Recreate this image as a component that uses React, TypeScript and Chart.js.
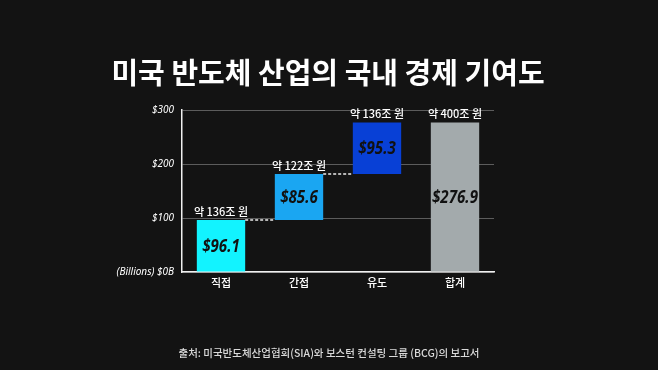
import React, { useEffect, useRef } from "react";
import { Chart, registerables } from "chart.js";

Chart.register(...registerables);

const titleText = "미국 반도체 산업의 국내 경제 기여도";
const sourceText = "출처: 미국반도체산업협회(SIA)와 보스턴 컨설팅 그룹 (BCG)의 보고서";
const categories = ["직접", "간접", "유도", "합계"];
const increments = [96.1, 85.6, 95.3];
const totalValue = 276.9;
const valueLabels = ["$96.1", "$85.6", "$95.3", "$276.9"];
const wonLabels = ["약 136조 원", "약 122조 원", "약 136조 원", "약 400조 원"];
const yTickLabels: Record<number, string> = { 0: "(Billions) $0B", 100: "$100", 200: "$200", 300: "$300" };
const barColors = ["#12f3ff", "#1aa6f2", "#0840d6", "#a3aaac"];

export default function App() {
  const ref = useRef<HTMLCanvasElement>(null);
  useEffect(() => {
    document.body.style.margin = "0";
    document.body.style.background = "#131313";
    const ranges: [number, number][] = [];
    let acc = 0;
    for (const v of increments) {
      ranges.push([acc, +(acc + v).toFixed(1)]);
      acc += v;
    }
    ranges.push([0, totalValue]);

    const overlay = {
      id: "overlay",
      afterDatasetsDraw(chart: any) {
        const ctx = chart.ctx;
        const meta = chart.getDatasetMeta(0);
        const ys = chart.scales.y;
        ctx.save();
        ctx.strokeStyle = "#ececec";
        ctx.lineWidth = 1.5;
        ctx.setLineDash([3, 2]);
        for (let i = 0; i < increments.length - 1; i++) {
          const a = meta.data[i];
          const b = meta.data[i + 1];
          const y = ys.getPixelForValue(ranges[i][1]);
          ctx.beginPath();
          ctx.moveTo(a.x + a.width / 2, y);
          ctx.lineTo(b.x - b.width / 2, y);
          ctx.stroke();
        }
        ctx.setLineDash([]);
        meta.data.forEach((el: any, i: number) => {
          const top = Math.min(el.y, el.base);
          const bot = Math.max(el.y, el.base);
          ctx.fillStyle = "#ffffff";
          ctx.font = "500 11px 'Noto Sans CJK KR'";
          ctx.textAlign = "center";
          ctx.textBaseline = "bottom";
          ctx.fillText(wonLabels[i], el.x, top - 3);
          ctx.save();
          ctx.translate(el.x, (top + bot) / 2 + 1);
          ctx.scale(0.84, 1);
          ctx.fillStyle = "#111111";
          ctx.font = "italic bold 18px 'Noto Sans'";
          ctx.textBaseline = "middle";
          ctx.fillText(valueLabels[i], 0, 0);
          ctx.restore();
        });
        ctx.restore();
      },
      afterDraw(chart: any) {
        const ctx = chart.ctx;
        ctx.save();
        ctx.fillStyle = "#ffffff";
        ctx.textAlign = "center";
        ctx.textBaseline = "middle";
        ctx.font = "bold 29px 'Noto Sans CJK KR'";
        ctx.fillText(titleText, 328, 73);
        ctx.fillStyle = "#dadada";
        ctx.font = "500 10.5px 'Noto Sans CJK KR'";
        ctx.fillText(sourceText, 329, 353);
        ctx.restore();
      },
    };

    const chart = new Chart(ref.current!, {
      type: "bar",
      data: {
        labels: categories,
        datasets: [
          {
            data: ranges as any,
            backgroundColor: barColors,
            borderWidth: 0,
            barPercentage: 0.62,
            categoryPercentage: 1,
            borderSkipped: false,
          },
        ],
      },
      options: {
        animation: false,
        responsive: false,
        maintainAspectRatio: false,
        layout: { padding: { left: 0, top: 110, right: 164, bottom: 73 } },
        plugins: { legend: { display: false }, tooltip: { enabled: false }, title: { display: false } },
        scales: {
          x: {
            grid: { display: false, drawTicks: false },
            border: { display: true, color: "#f0f0f0", width: 1.5 },
            ticks: { color: "#ffffff", font: { family: "'Noto Sans CJK KR'", size: 11, weight: "500" }, padding: 4 },
            afterFit: (s: any) => { s.height = 25; },
          },
          y: {
            min: 0,
            max: 300,
            grid: { color: "#5c5c5c", lineWidth: 1, drawTicks: false },
            border: { display: true, color: "#f0f0f0", width: 1.5 },
            ticks: {
              stepSize: 100,
              color: "#ffffff",
              padding: 8,
              font: { family: "'Noto Sans'", size: 10, style: "italic" },
              callback: (v: any) => yTickLabels[v as number] ?? "",
            },
            afterFit: (s: any) => { s.width = 182; },
          },
        },
      },
      plugins: [overlay],
    });
    return () => chart.destroy();
  }, []);
  return <canvas ref={ref} width={658} height={370} style={{ display: "block" }} />;
}
